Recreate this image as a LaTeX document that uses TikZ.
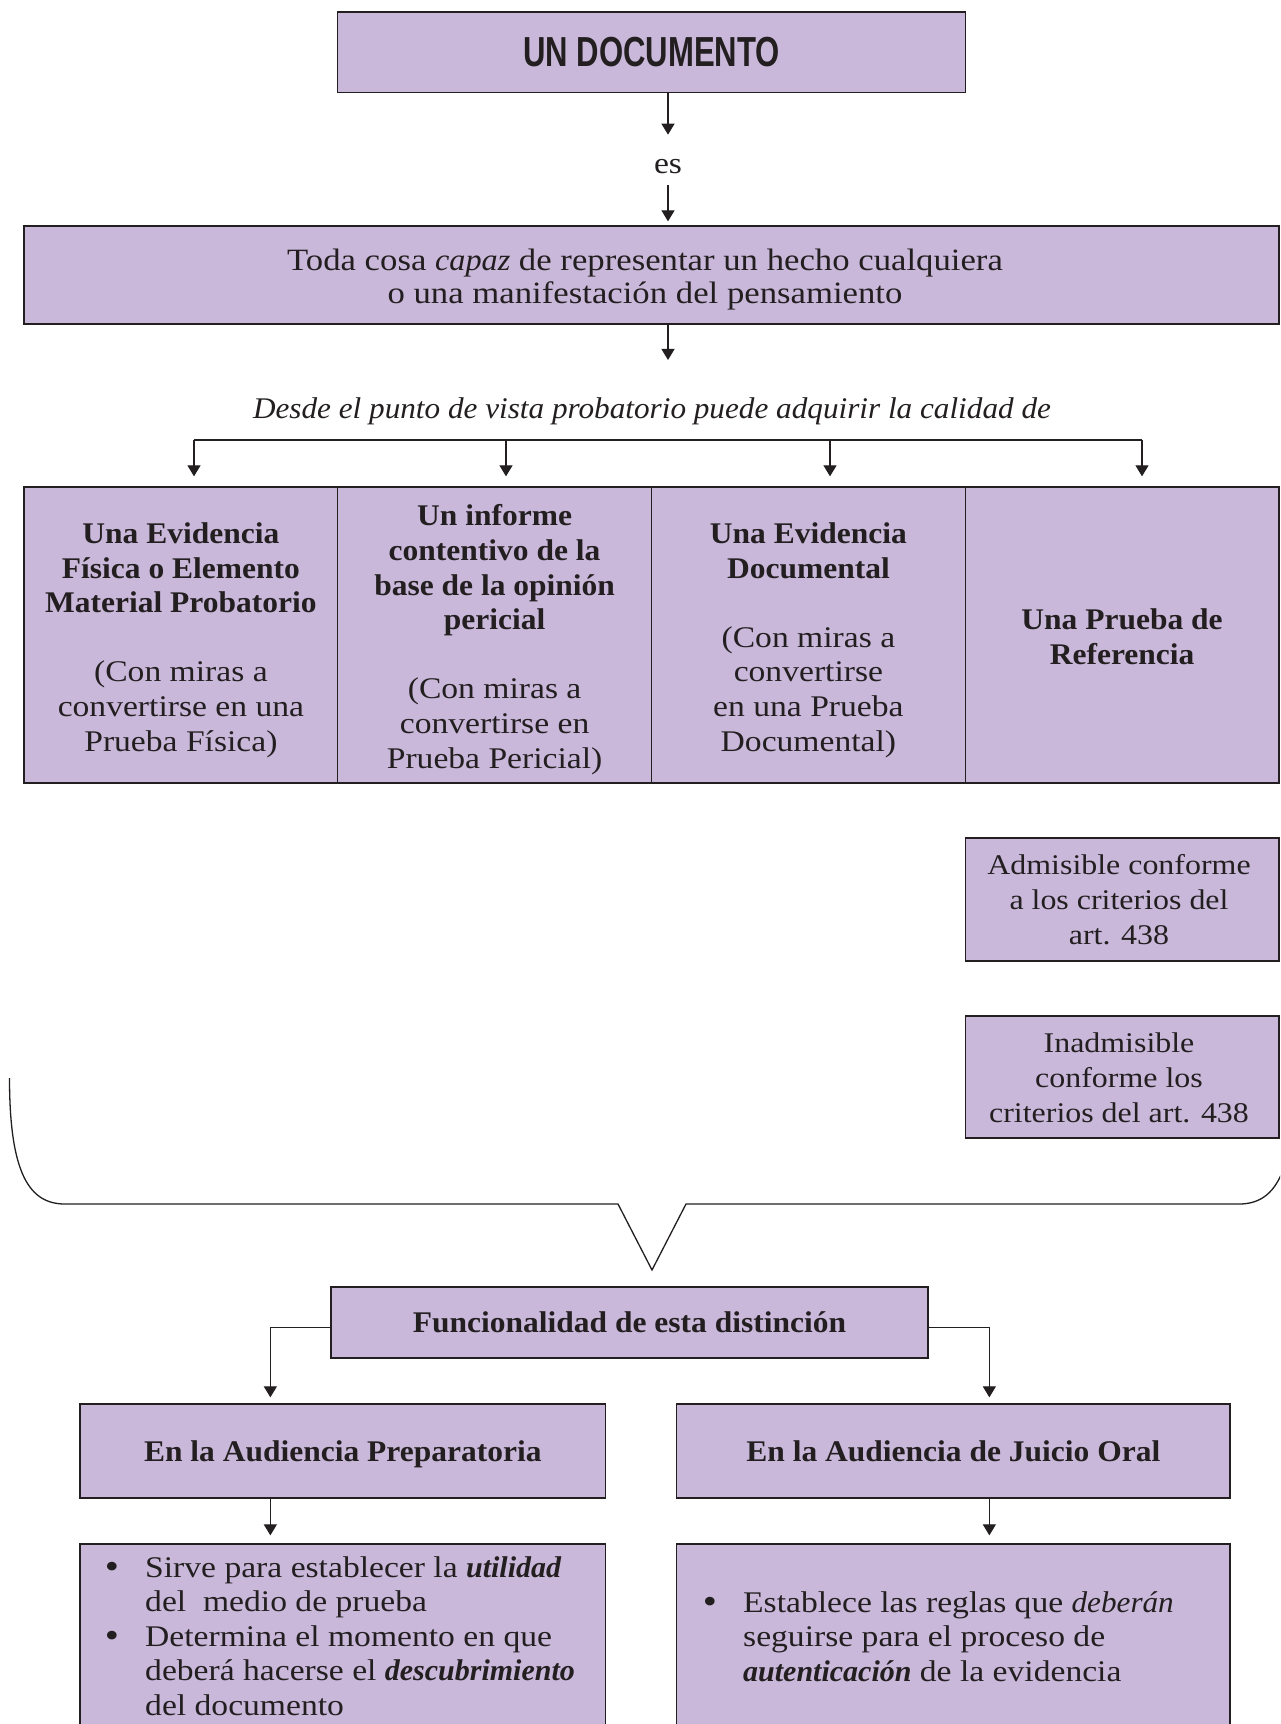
\documentclass[tikz,border=0pt]{standalone}
\usepackage{fontspec}
\setmainfont{Liberation Serif}
\newfontfamily\fR{Liberation Serif}[FakeStretch=1.12]
\newfontfamily\fB{Liberation Serif}[FakeStretch=1.05]
\newfontfamily\fI{Liberation Serif}[FakeStretch=1.04]
\newfontfamily\fBI{Liberation Serif}[FakeStretch=1.0]
\newfontfamily\fS{Liberation Sans}[FakeStretch=0.74]
\usetikzlibrary{arrows.meta}
\definecolor{lila}{RGB}{201,184,218}
\definecolor{ink}{RGB}{35,31,32}
\newcommand{\myb}[1]{{\fB\bfseries #1}}
\newcommand{\myit}[1]{{\fI\itshape #1}}
\newcommand{\mybi}[1]{{\fBI\bfseries\itshape #1}}
\begin{document}
\begin{tikzpicture}[x=1pt,y=-1pt,
  box/.style={draw=ink, line width=1.3pt, fill=lila, inner sep=0pt, text=ink, align=center,
    font=\fR\fontsize{30}{34.6}\selectfont},
  txt/.style={inner sep=0pt, align=center, text=ink, font=\fR\fontsize{30}{34.6}\selectfont},
  dot/.style={inner sep=0pt, text=ink, font=\fR\fontsize{36}{36}\selectfont},
  arr/.style={draw=ink, line width=1.2pt, -{Triangle[width=13pt,length=11pt]}},
  ln/.style={draw=ink, line width=1.2pt}]
\clip (0,0) rectangle (1280,1724);
\fill[white] (0,0) rectangle (1280,1724);

% top
\node[box, minimum width=628pt, minimum height=80.5pt, font=\fS\bfseries\fontsize{42}{42}\selectfont] (doc) at (651.5,52.2) {UN DOCUMENTO};
\node[txt, anchor=base] (es) at (668,173) {es};
\draw[arr] (doc.south -| es) -- ([yshift=24pt]es.north);

\node[box, minimum width=1255pt, minimum height=98pt] (tcosa) at (651.5,275) {};
\node[txt, anchor=base, font=\fR\fontsize{31}{33}\selectfont] (tcosat) at (645,303) {Toda cosa \myit{capaz} de representar un hecho cualquiera\\o una manifestación del pensamiento};
\draw[arr, shorten >=4pt] ([yshift=-12pt]es.south) -- (es |- tcosa.north);

\node[txt, anchor=base, font=\fI\itshape\fontsize{30}{34.6}\selectfont] (desde) at (652,418) {Desde el punto de vista probatorio puede adquirir la calidad de};
\draw[arr, shorten >=37pt] (tcosa.south -| es) -- (es |- desde.north);

% four columns
\node[box, minimum width=313.75pt, minimum height=296pt] (c1) at (180.9,635) {};
\node[box, minimum width=313.75pt, minimum height=296pt] (c2) at (494.6,635) {};
\node[box, minimum width=313.75pt, minimum height=296pt] (c3) at (808.4,635) {};
\node[box, minimum width=313.75pt, minimum height=296pt] (c4) at (1122.1,635) {};

\node[txt, anchor=base] (c1t) at (180.9,751) {\myb{Una Evidencia}\\\myb{Física o Elemento}\\\myb{Material Probatorio}\\[34.6pt](Con miras a\\convertirse en una\\Prueba Física)};
\node[txt, anchor=base] (c2t) at (494.6,768) {\myb{Un informe}\\\myb{contentivo de la}\\\myb{base de la opinión}\\\myb{pericial}\\[34.6pt](Con miras a\\convertirse en\\Prueba Pericial)};
\node[txt, anchor=base] (c3t) at (808.4,751) {\myb{Una Evidencia}\\\myb{Documental}\\[34.6pt](Con miras a\\convertirse\\en una Prueba\\Documental)};
\node[txt, anchor=base] (c4t) at (1122.1,664) {\myb{Una Prueba de}\\\myb{Referencia}};

\coordinate (f1) at (194,440);
\coordinate (f2) at (506,440);
\coordinate (f3) at (830,440);
\coordinate (f4) at (1142,440);
\draw[ln] (f1) -- (f4);
\draw[arr, shorten >=10pt] (f1) -- (f1 |- c1.north);
\draw[arr, shorten >=10pt] (f2) -- (f2 |- c2.north);
\draw[arr, shorten >=10pt] (f3) -- (f3 |- c3.north);
\draw[arr, shorten >=10pt] (f4) -- (f4 |- c4.north);

% admisible boxes
\node[box, minimum width=313.5pt, minimum height=123pt] (adm) at (1122.25,899.5) {};
\node[txt, anchor=base, font=\fR\fontsize{28.5}{34.6}\selectfont] (admt) at (1119,944) {Admisible conforme\\a los criterios del\\art. 438};
\node[box, minimum width=313.5pt, minimum height=122pt] (inadm) at (1122.25,1077) {};
\node[txt, anchor=base, font=\fR\fontsize{28.5}{34.6}\selectfont] (inadmt) at (1119,1122) {Inadmisible\\conforme los\\criterios del art. 438};

% brace
\draw[ln, line width=1.3pt] (9.5,1078) .. controls (9.5,1175) and (30,1204) .. (65,1204) -- (618,1204) -- (652,1270) -- (686,1204) -- (1239,1204) .. controls (1274,1204) and (1294.5,1175) .. (1294.5,1078);

% bottom part
\node[box, minimum width=597pt, minimum height=71pt] (func) at (629.5,1322.5) {\myb{Funcionalidad de esta distinción}};
\node[box, minimum width=525.7pt, minimum height=94pt, text height=20.5pt, text depth=0pt] (prep) at (342.85,1451) {\myb{En la Audiencia Preparatoria}};
\node[box, minimum width=553.3pt, minimum height=94pt, text height=20.5pt, text depth=0pt] (juicio) at (953.35,1451) {\myb{En la Audiencia de Juicio Oral}};
\draw[arr] ([yshift=-5pt]func.west) -| ([xshift=191pt,yshift=6pt]prep.north west);
\draw[arr] ([yshift=-5pt]func.east) -| ([xshift=313.3pt,yshift=6pt]juicio.north west);

\node[box, minimum width=525.7pt, minimum height=216pt] (bul1) at (342.85,1652) {};
\node[box, minimum width=553.3pt, minimum height=216pt] (bul2) at (953.35,1652) {};
\draw[arr] ([xshift=191pt]prep.south west) -- ([xshift=191pt,yshift=8pt]bul1.north west);
\draw[arr] ([xshift=313.3pt]juicio.south west) -- ([xshift=313.3pt,yshift=8pt]bul2.north west);

\node[dot, anchor=base] (d1) at (112,1578) {•};
\node[dot, anchor=base] (d2) at (112,1647) {•};
\node[txt, anchor=base west, align=left] (bt1) at (145,1715.4) {Sirve para establecer la \mybi{utilidad}\\del\ \ medio de prueba\\Determina el momento en que\\deberá hacerse el \mybi{descubrimiento}\\del documento};
\node[dot, anchor=base] (d3) at (710,1613) {•};
\node[txt, anchor=base west, align=left] (bt2) at (743,1681.2) {Establece las reglas que \myit{deberán}\\seguirse para el proceso de\\\mybi{autenticación} de la evidencia};
\end{tikzpicture}
\end{document}
